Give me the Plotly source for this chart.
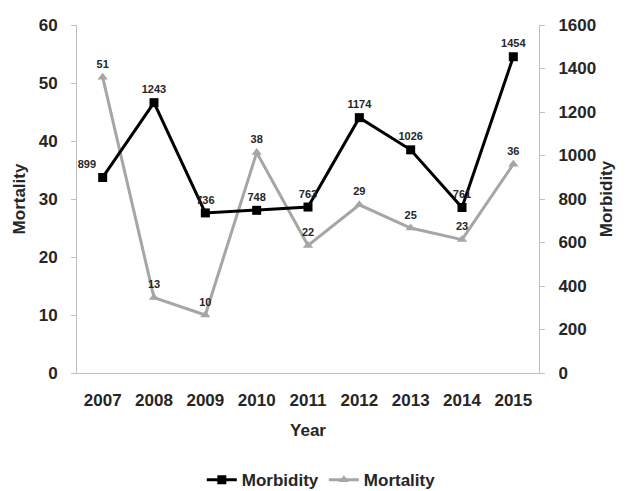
import plotly.graph_objects as go

years = ["2007", "2008", "2009", "2010", "2011", "2012", "2013", "2014", "2015"]
morbidity = [899, 1243, 736, 748, 763, 1174, 1026, 761, 1454]
mortality = [51, 13, 10, 38, 22, 29, 25, 23, 36]

font_family = "Liberation Sans, Arial, sans-serif"
ink = "#262626"
label_font = dict(family=font_family, size=11, color=ink)
axis_font = dict(family=font_family, size=17, color=ink)

# first morbidity label sits left of its marker, the rest above
morb_positions = ["top left"] + ["top center"] * (len(years) - 1)

fig = go.Figure()

fig.add_trace(go.Scatter(
    x=years, y=morbidity, name="<b>Morbidity</b>", yaxis="y2",
    mode="lines+markers+text",
    line=dict(color="black", width=3),
    marker=dict(symbol="square", size=9, color="black"),
    text=[f"<b>{v}</b>" for v in morbidity],
    textposition=morb_positions,
    textfont=label_font,
    cliponaxis=False,
))

fig.add_trace(go.Scatter(
    x=years, y=mortality, name="<b>Mortality</b>", yaxis="y",
    mode="lines+markers+text",
    line=dict(color="#a6a6a6", width=3),
    marker=dict(symbol="triangle-up", size=9, color="#a6a6a6"),
    text=[f"<b>{v}</b>" for v in mortality],
    textposition="top center",
    textfont=label_font,
    cliponaxis=False,
))

fig.update_layout(
    width=630, height=491,
    margin=dict(l=77, r=91, t=25, b=118),
    paper_bgcolor="white", plot_bgcolor="white",
    font=dict(family=font_family, color=ink),
    xaxis=dict(
        type="category", range=[-0.5, 8.5],
        title=dict(text="<b>Year</b>", font=axis_font, standoff=14),
        tickfont=axis_font, ticklabelstandoff=12,
        showline=True, linecolor="#bfbfbf", linewidth=1,
        showgrid=False, ticks="",
        tickprefix="<b>", ticksuffix="</b>",
    ),
    yaxis=dict(
        range=[0, 60], dtick=10,
        title=dict(text="<b>Mortality</b>", font=axis_font, standoff=8),
        tickfont=axis_font, tickprefix="<b>", ticksuffix="</b>",
        ticklabelstandoff=10,
        showline=True, linecolor="#bfbfbf", linewidth=1,
        ticks="outside", ticklen=5, tickcolor="#bfbfbf",
        showgrid=False, zeroline=False,
    ),
    yaxis2=dict(
        range=[0, 1600], dtick=200, overlaying="y", side="right",
        title=dict(text="<b>Morbidity</b>", font=axis_font, standoff=4),
        tickfont=axis_font, tickprefix="<b>", ticksuffix="</b>",
        ticklabelstandoff=10,
        showline=True, linecolor="#bfbfbf", linewidth=1,
        ticks="outside", ticklen=5, tickcolor="#bfbfbf",
        showgrid=False, zeroline=False,
    ),
    legend=dict(
        orientation="h", xref="container", yref="container",
        x=0.51, xanchor="center", y=0.022, yanchor="middle",
        font=dict(family=font_family, size=17, color=ink),
    ),
)

fig.write_html("out.html")
